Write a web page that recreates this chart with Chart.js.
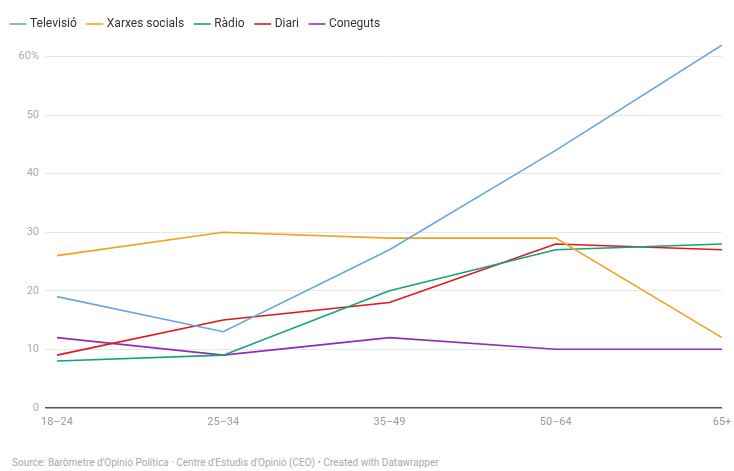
<!DOCTYPE html>
<html>
<head>
<meta charset="utf-8">
<script src="https://cdn.jsdelivr.net/npm/chart.js@4"></script>
<style>
  body { margin: 0; background: #fff; font-family: Roboto, "Noto Sans", sans-serif; }
  #wrap { position: relative; width: 734px; height: 437px; }
  #footer { position: absolute; left: 12px; top: 457px; font-size: 10px; color: #a8a8a8; font-family: Roboto, sans-serif; }
</style>
</head>
<body>
<div id="wrap"><canvas id="chart"></canvas></div>
<div id="footer">Source: Baròmetre d'Opinió Política · Centre d'Estudis d'Opinió (CEO) • Created with Datawrapper</div>
<script>
// grups d'edat
const categories = ['18–24', '25–34', '35–49', '50–64', '65+'];

// valors en %
const televisio = [19, 13, 27, 44, 62];
const xarxesSocials = [26, 30, 29, 29, 12];
const radio = [8, 9, 20, 27, 28];
const diari = [9, 15, 18, 28, 27];
const coneguts = [12, 9, 12, 10, 10];

const yTicks = [0, 10, 20, 30, 40, 50, 60];

function serie(label, data, color) {
    return {
        label: label,
        data: data,
        borderColor: color,
        backgroundColor: color,
        borderWidth: 1.6,
        pointRadius: 0,
        tension: 0
    };
}

// espai extra sota la llegenda
const legendSpace = {
    id: 'legendSpace',
    beforeInit(chart) {
        const fit = chart.legend.fit;
        chart.legend.fit = function () {
            fit.bind(chart.legend)();
            this.height += 5;
        };
    }
};

const ctx = document.getElementById('chart').getContext('2d');
new Chart(ctx, {
    type: 'line',
    data: {
        labels: categories,
        datasets: [
            serie('Televisió', televisio, '#6ba6de'),
            serie('Xarxes socials', xarxesSocials, '#f2a31b'),
            serie('Ràdio', radio, '#14a37a'),
            serie('Diari', diari, '#e0171f'),
            serie('Coneguts', coneguts, '#8e2fb3')
        ]
    },
    plugins: [legendSpace],
    options: {
        responsive: true,
        maintainAspectRatio: false,
        animation: false,
        layout: { padding: { left: 0, right: 0, top: 6, bottom: 0 } },
        plugins: {
            legend: {
                position: 'top',
                align: 'start',
                labels: {
                    usePointStyle: true,
                    pointStyle: 'line',
                    boxWidth: 18,
                    color: '#333',
                    font: { family: 'Roboto', size: 12 },
                    padding: 12
                }
            },
            tooltip: { enabled: false }
        },
        scales: {
            x: {
                offset: false,
                afterFit: function (scale) {
                    scale.paddingRight = 12;
                },
                grid: { display: false, drawTicks: false },
                border: { display: false },
                ticks: {
                    color: '#9a9a9a',
                    font: { family: 'Roboto', size: 11 },
                    maxRotation: 0,
                    padding: 8
                }
            },
            y: {
                min: 0,
                max: 62,
                afterBuildTicks: function (scale) {
                    scale.ticks = yTicks.map(v => ({ value: v }));
                },
                afterFit: function (scale) {
                    scale.width = 57;
                },
                grid: {
                    color: c => (c.tick && c.tick.value === 0) ? '#555' : '#e8e8e8',
                    lineWidth: c => (c.tick && c.tick.value === 0) ? 1.5 : 1,
                    tickLength: 12
                },
                border: { display: false },
                ticks: {
                    color: '#aaaaaa',
                    font: { family: 'Roboto', size: 11 },
                    padding: 6,
                    callback: v => v === 60 ? '60%' : v
                }
            }
        }
    }
});
</script>
</body>
</html>
